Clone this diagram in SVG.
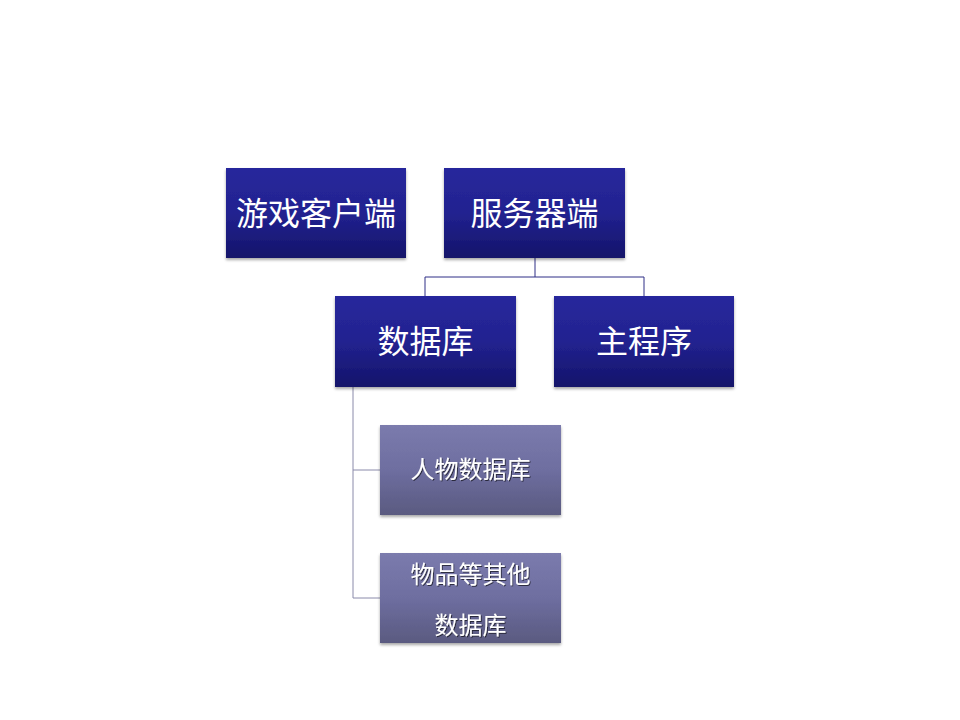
<svg xmlns="http://www.w3.org/2000/svg" width="960" height="720" viewBox="0 0 960 720">
<style>
.main{fill:url(#gMain);filter:url(#sh)}
.sub{fill:url(#gSub);filter:url(#sh)}
.t{font-family:"Microsoft YaHei","Noto Sans CJK SC",sans-serif;fill:#ffffff;text-anchor:middle}
.tm{font-size:32px}
.ts{font-size:24px;filter:url(#tsh)}
.c{fill:none;stroke:#2e2e86;stroke-width:1}
.c2{fill:none;stroke:#8a8aaa;stroke-width:1}
</style>
<defs>
<linearGradient id="gMain" x1="0" y1="0" x2="0" y2="1">
<stop offset="0" stop-color="#28289c"/>
<stop offset="0.5" stop-color="#222290"/>
<stop offset="1" stop-color="#14146a"/>
</linearGradient>
<linearGradient id="gSub" x1="0" y1="0" x2="0" y2="1">
<stop offset="0" stop-color="#7b7bad"/>
<stop offset="0.5" stop-color="#6e6ea0"/>
<stop offset="1" stop-color="#5a5a80"/>
</linearGradient>
<filter id="sh" x="-10%" y="-10%" width="120%" height="130%">
<feGaussianBlur in="SourceAlpha" stdDeviation="1.5"/>
<feOffset dx="0" dy="2" result="b"/>
<feComponentTransfer><feFuncA type="linear" slope="0.35"/></feComponentTransfer>
<feMerge><feMergeNode/><feMergeNode in="SourceGraphic"/></feMerge>
</filter>
<filter id="tsh" x="-10%" y="-20%" width="120%" height="140%">
<feOffset in="SourceAlpha" dx="1" dy="1"/>
<feComponentTransfer><feFuncA type="linear" slope="0.6"/></feComponentTransfer>
<feMerge><feMergeNode/><feMergeNode in="SourceGraphic"/></feMerge>
</filter>
</defs>
<rect width="960" height="720" fill="#ffffff"/>
<g id="connectors">
<path class="c" d="M535,258 V277 H425 V296 M535,277 H644 V296"/>
<path class="c2" d="M353,387 V598 H380 M353,470 H380"/>
</g>
<g id="client">
<rect class="main" x="226" y="168" width="180" height="90"/>
<text class="t tm" x="316" y="225">游戏客户端</text>
</g>
<g id="server">
<rect class="main" x="444" y="168" width="181" height="90"/>
<text class="t tm" x="534.5" y="225">服务器端</text>
</g>
<g id="database">
<rect class="main" x="335" y="296" width="181" height="91"/>
<text class="t tm" x="425.5" y="353">数据库</text>
</g>
<g id="mainprog">
<rect class="main" x="554" y="296" width="180" height="91"/>
<text class="t tm" x="644" y="353">主程序</text>
</g>
<g id="chardb">
<rect class="sub" x="380" y="425" width="181" height="90"/>
<text class="t ts" x="470.5" y="478">人物数据库</text>
</g>
<g id="itemdb">
<rect class="sub" x="380" y="553" width="181" height="90"/>
<text class="t ts" x="470.5" y="583">物品等其他</text>
<text class="t ts" x="470.5" y="634">数据库</text>
</g>
</svg>
